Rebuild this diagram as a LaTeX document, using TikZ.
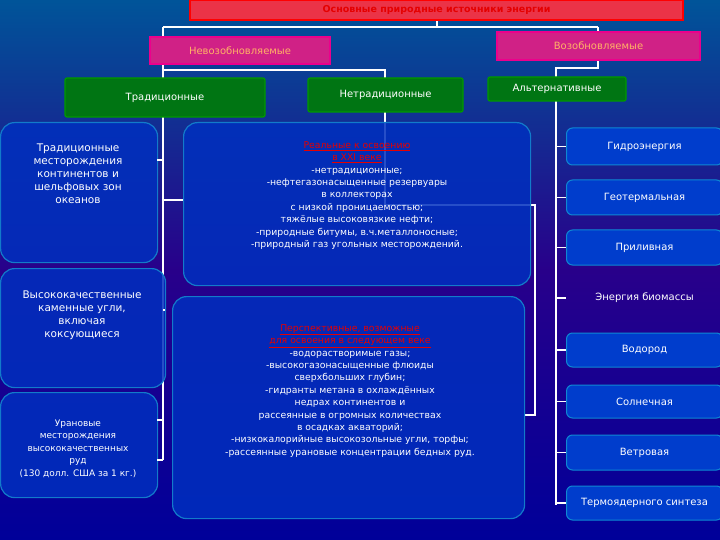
\documentclass[tikz,border=0pt]{standalone}
\usepackage{fontspec}
\setmainfont{DejaVu Sans}
\begin{document}
\begin{tikzpicture}[x=1pt,y=-1pt,
 lnk/.style={white,line width=1.6pt},
 mag/.style={draw=magenta,line width=1.2pt,fill=magenta!70!violet,text=orange!60!white,font=\fontsize{10}{12}\selectfont,inner sep=0pt},
 grn/.style={draw=green!60!black,line width=1.2pt,fill=green!45!black!85!teal,text=white,font=\fontsize{10}{12}\selectfont,rounded corners=2pt,inner sep=0pt},
 blu/.style={draw=cyan!60!blue,line width=1.2pt,fill=blue!75!cyan!75!black,fill opacity=0.85,rounded corners=14pt,inner sep=0pt},
 sm/.style={draw=cyan!70!blue,line width=1pt,fill=blue!70!cyan!80!black,rounded corners=6pt,text=white,font=\fontsize{10}{11}\selectfont,inner sep=0pt},
 txt/.style={text=white,align=center,font=\fontsize{9.3}{12.4}\selectfont}]
\shade[top color=blue!45!cyan!60!black, bottom color=blue!60!black, middle color=blue!55!violet!70!black] (0,0) rectangle (720,540);
\useasboundingbox (0,0) rectangle (720,540);
% connectors
\draw[lnk] (437,20) -- (437,27) (163,27) -- (598,27) (163,27) -- (163,37) (598,27) -- (598,32);
\draw[lnk] (163,64) -- (163,70) -- (385,70) -- (385,78) (163,70)--(163,78);
\draw[lnk] (598,60) -- (598,68) -- (556,68) -- (556,77);
\draw[lnk] (163,117) -- (163,460);
\draw[lnk] (385,112) -- (385,205) -- (535,205) -- (535,415) -- (524,415);
\draw[lnk] (556,101) -- (556,505);
% boxes
\node[draw=red,line width=1.5pt,fill=red!60!purple!80,text=red!90!black,font=\bfseries\fontsize{9.5}{11}\selectfont,minimum width=493pt,minimum height=20pt,inner sep=0pt] (t) at (436.5,10) {Основные природные источники энергии};
\node[mag,minimum width=180pt,minimum height=27pt] (n) at (240,50.5) {Невозобновляемые};
\node[mag,minimum width=203pt,minimum height=28pt] (v) at (598.5,46) {Возобновляемые};
\node[grn,minimum width=200pt,minimum height=39pt] (tr) at (165,97.5) {Традиционные};
\node[grn,minimum width=155pt,minimum height=34pt] (nt) at (385.5,95) {Нетрадиционные};
\node[grn,minimum width=138pt,minimum height=24pt] (al) at (557,89) {Альтернативные};
\node[blu,minimum width=157pt,minimum height=140pt,anchor=north west] (b1) at (0,122) {};
\node[txt,font=\fontsize{10.5}{13}\selectfont,anchor=north] at (78,140) {Традиционные\\месторождения\\континентов и\\шельфовых зон\\океанов};
\node[blu,minimum width=165pt,minimum height=119pt,anchor=north west] (b2) at (0,268) {};
\node[txt,font=\fontsize{10.5}{13}\selectfont,anchor=north] at (82,287) {Высококачественные\\каменные угли,\\включая\\коксующиеся};
\node[blu,minimum width=157pt,minimum height=105pt,anchor=north west] (b3) at (0,392) {};
\node[txt,font=\fontsize{9}{12.5}\selectfont,anchor=north] at (78,416) {Урановые\\месторождения\\высококачественных\\руд\\(130 долл. США за 1 кг.)};
\node[blu,minimum width=347pt,minimum height=163pt,anchor=north west] (m1) at (183,122) {};
\node[txt,anchor=north] at (357,138) {{\color{red!90!black}\underline{Реальные к освоению}}\\{\color{red!90!black}\underline{в XXI веке}}\\-нетрадиционные;\\-нефтегазонасыщенные резервуары\\в коллекторах\\с низкой проницаемостью;\\тяжёлые высоковязкие нефти;\\-природные битумы, в.ч.металлоносные;\\-природный газ угольных месторождений.};
\node[blu,minimum width=352pt,minimum height=222pt,anchor=north west] (m2) at (172,296) {};
\node[txt,anchor=north] at (350,321) {{\color{red!90!black}\underline{Перспективные, возможные}}\\{\color{red!90!black}\underline{для освоения в следующем веке}}\\-водорастворимые газы;\\-высокогазонасыщенные флюиды\\сверхбольших глубин;\\-гидранты метана в охлаждённых\\недрах континентов и\\рассеянные в огромных количествах\\в осадках акваторий;\\-низкокалорийные высокозольные угли, торфы;\\-рассеянные урановые концентрации бедных руд.};
% right column
\foreach \n/\y/\h/\t in {r1/146.5/37/Гидроэнергия, r2/197.5/35/Геотермальная, r3/247.5/35/Приливная, r5/350/34/Водород, r6/401.5/33/Солнечная, r7/452.5/35/Ветровая, r8/503/34/Термоядерного синтеза}{
 \node[sm,minimum width=156pt,minimum height=\h pt,anchor=west] (\n) at (566,\y) {\t};
 \draw[lnk] (556,\y) -- (\n.west);
}
\node[sm,draw=none,fill=none,anchor=west,minimum width=156pt,minimum height=28pt] (r4) at (566,298) {Энергия биомассы};
\draw[lnk] (556,298) -- (r4.west);
\foreach \y in {160,420,460}{\draw[lnk] (163,\y) -- (157,\y);}
\draw[lnk] (163,310) -- (165,310);
\draw[lnk] (163,200) -- (183,200);
\end{tikzpicture}
\end{document}
